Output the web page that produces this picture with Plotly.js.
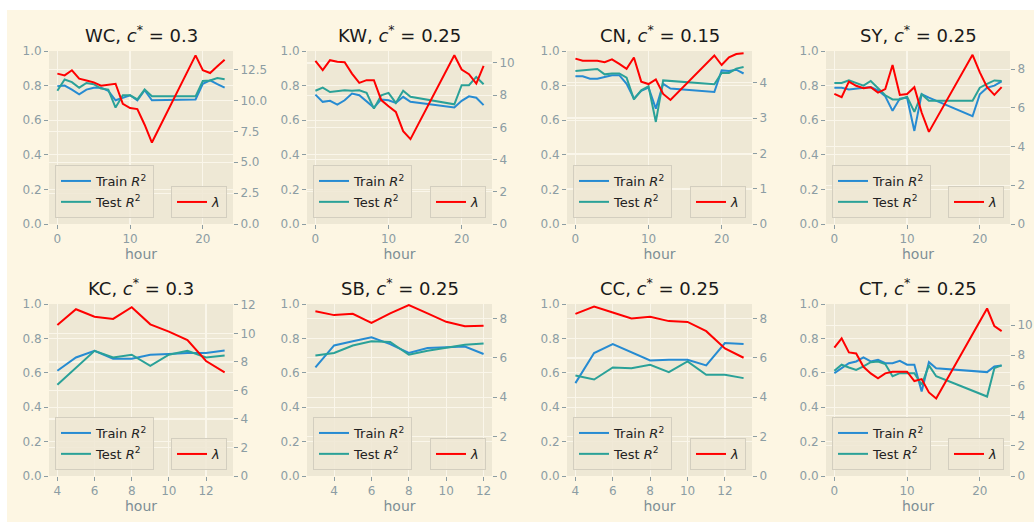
<!DOCTYPE html>
<html>
<head>
<meta charset="utf-8">
<script src="https://cdn.plot.ly/plotly-3.0.1.min.js"></script>
<style>
  html, body { margin: 0; padding: 0; background: #ffffff; }
  #chart { position: absolute; left: 7px; top: 10px; width: 1027px; height: 512px; }
</style>
</head>
<body>
<div id="chart"></div>
<script>
// ---------- data ----------
const sites = ['WC', 'KW', 'CN', 'SY', 'KC', 'SB', 'CC', 'CT'];
const cStar = ['0.3', '0.25', '0.15', '0.25', '0.3', '0.25', '0.25', '0.25'];

const wcHours  = [0,1,2,3,4,5,6,7,8,9,10,11,12,13,19,20,21,22,23];
const wcTrain  = [0.796,0.80,0.777,0.75,0.777,0.788,0.788,0.77,0.715,0.73,0.744,0.715,0.773,0.715,0.72,0.81,0.83,0.808,0.788];
const wcTest   = [0.77,0.835,0.82,0.788,0.815,0.808,0.783,0.777,0.673,0.744,0.744,0.72,0.777,0.738,0.738,0.827,0.83,0.844,0.837];
const wcLambda = [12.18,12.04,12.45,11.77,11.63,11.47,11.2,11.28,11.36,9.74,9.39,9.31,8.04,6.6,13.66,12.45,12.23,12.77,13.31];

const kwHours  = [0,1,2,3,4,5,6,7,8,9,10,11,12,13,19,20,21,22,23];
const kwTrain  = [0.748,0.706,0.712,0.69,0.715,0.754,0.744,0.706,0.673,0.72,0.715,0.70,0.735,0.706,0.673,0.712,0.738,0.73,0.687];
const kwTest   = [0.77,0.788,0.763,0.77,0.773,0.77,0.773,0.758,0.667,0.744,0.758,0.70,0.77,0.735,0.692,0.802,0.802,0.85,0.808];
const kwLambda = [10.12,9.55,10.17,10.08,10.04,9.34,8.76,8.93,8.93,7.69,7.31,6.96,5.76,5.27,10.48,9.59,9.3,8.72,9.81];

const cnHours  = [0,1,2,3,4,5,6,7,8,9,10,11,12,13,19,20,21,22,23];
const cnTrain  = [0.854,0.854,0.84,0.84,0.85,0.86,0.86,0.81,0.725,0.77,0.788,0.667,0.81,0.783,0.763,0.888,0.885,0.892,0.87];
const cnTest   = [0.885,0.888,0.892,0.896,0.865,0.87,0.87,0.846,0.72,0.773,0.796,0.59,0.83,0.827,0.808,0.873,0.873,0.898,0.908];
const cnLambda = [4.68,4.62,4.62,4.62,4.58,4.66,4.53,4.39,4.71,4.03,3.96,4.09,3.68,3.51,4.77,4.5,4.72,4.81,4.83];

const syHours  = [0,1,2,3,4,5,6,7,8,9,10,11,12,13,19,20,21,22,23];
const syTrain  = [0.788,0.788,0.777,0.783,0.788,0.792,0.773,0.738,0.654,0.725,0.73,0.538,0.75,0.73,0.623,0.75,0.788,0.80,0.825];
const syTest   = [0.815,0.815,0.83,0.815,0.80,0.827,0.783,0.744,0.72,0.72,0.735,0.648,0.75,0.712,0.712,0.788,0.81,0.83,0.827];
const syLambda = [6.72,6.55,7.36,7.14,7.02,7.07,6.79,6.97,8.22,6.67,6.72,7.07,5.76,4.76,8.74,7.83,7.07,6.67,7.07];

const kcHours  = [4,5,6,7,8,9,10,11,12,13];
const kcTrain  = [0.612,0.689,0.728,0.682,0.682,0.705,0.709,0.715,0.715,0.73];
const kcTest   = [0.53,0.631,0.728,0.689,0.705,0.641,0.705,0.728,0.689,0.70];
const kcLambda = [10.6,11.7,11.18,11.02,11.84,10.64,10.13,9.54,8.07,7.27];

const sbHours  = [3,4,5,6,7,8,9,10,11,12];
const sbTrain  = [0.631,0.759,0.783,0.806,0.767,0.715,0.744,0.748,0.753,0.709];
const sbTest   = [0.701,0.715,0.759,0.783,0.779,0.705,0.728,0.744,0.763,0.771];
const sbLambda = [8.37,8.17,8.24,7.77,8.26,8.68,8.26,7.83,7.6,7.63];

const ccHours  = [4,5,6,7,8,9,10,11,12,13];
const ccTrain  = [0.54,0.715,0.767,0.72,0.672,0.676,0.676,0.643,0.773,0.767];
const ccTest   = [0.584,0.561,0.631,0.627,0.647,0.604,0.666,0.588,0.588,0.569];
const ccLambda = [8.24,8.61,8.31,8.0,8.09,7.87,7.83,7.36,6.48,6.01];

const ctHours  = [0,1,2,3,4,5,6,7,8,9,10,11,12,13,14,21,22,23];
const ctTrain  = [0.598,0.627,0.656,0.666,0.689,0.666,0.676,0.656,0.656,0.67,0.647,0.647,0.491,0.662,0.627,0.604,0.637,0.643];
const ctTest   = [0.612,0.647,0.631,0.617,0.637,0.662,0.666,0.651,0.58,0.598,0.598,0.598,0.53,0.643,0.58,0.462,0.627,0.643];
const ctLambda = [8.5,9.12,8.19,8.12,7.24,6.8,6.47,6.8,6.91,6.91,6.91,6.29,6.42,5.54,5.14,11.1,9.93,9.6];

const lambdaTicks = [2.5, 2, 1, 2, 2, 2, 2, 2];

// ---------- layout helpers (pixel geometry) ----------
const W = 1027, H = 512;
const colPx = [[42, 226], [300, 485], [560, 745], [819, 1003]];
const rowPx = [[41, 214], [294, 466]];

const panels = [
  {h: wcHours, tr: wcTrain, te: wcTest, lam: wcLambda},
  {h: kwHours, tr: kwTrain, te: kwTest, lam: kwLambda},
  {h: cnHours, tr: cnTrain, te: cnTest, lam: cnLambda},
  {h: syHours, tr: syTrain, te: syTest, lam: syLambda},
  {h: kcHours, tr: kcTrain, te: kcTest, lam: kcLambda},
  {h: sbHours, tr: sbTrain, te: sbTest, lam: sbLambda},
  {h: ccHours, tr: ccTrain, te: ccTest, lam: ccLambda},
  {h: ctHours, tr: ctTrain, te: ctTest, lam: ctLambda}
];

const FONT = 'DejaVu Sans, sans-serif';
const TICK_COLOR = '#8c9da3';
const LABEL_COLOR = '#7d8f96';
const GRID = '#faf6ea';
const BLUE = '#268bd2', TEAL = '#2aa198', RED = '#ff0000';

const traces = [];
const layout = {
  width: W, height: H,
  margin: {l: 0, r: 0, t: 0, b: 0, pad: 0},
  paper_bgcolor: '#fdf6e3',
  plot_bgcolor: '#eee8d5',
  font: {family: FONT, color: '#222222', size: 12},
  showlegend: true,
  annotations: []
};

function axKey(letter, n) { return letter + 'axis' + (n === 1 ? '' : n); }
function axRef(letter, n) { return letter + (n === 1 ? '' : n); }

function pad(range) {
  const mn = Math.min(...range), mx = Math.max(...range);
  const m = 0.05 * (mx - mn);
  return [mn - m, mx + m];
}

panels.forEach((p, k) => {
  const col = colPx[k % 4], row = rowPx[Math.floor(k / 4)];
  const xn = k + 1, yl = 2 * k + 1, yr = 2 * k + 2;
  const xDom = [col[0] / W, col[1] / W];
  const yDom = [1 - row[1] / H, 1 - row[0] / H];
  const legL = k === 0 ? 'legend' : 'legend' + (2 * k + 1);
  const legR = 'legend' + (2 * k + 2);

  const xr = pad(p.h);
  const hourSpan = Math.max(...p.h) - Math.min(...p.h);
  layout[axKey('x', xn)] = {
    domain: xDom, anchor: axRef('y', yl), range: xr,
    dtick: hourSpan > 12 ? 10 : 2, tick0: 0,
    showgrid: true, gridcolor: GRID, gridwidth: 1.2, zeroline: false, showline: false,
    ticks: 'outside', ticklen: 4, tickcolor: TICK_COLOR, tickwidth: 1,
    tickfont: {family: FONT, size: 12, color: TICK_COLOR},
    title: {text: 'hour', font: {family: FONT, size: 14, color: LABEL_COLOR}, standoff: 2},
    automargin: false, fixedrange: true
  };
  layout[axKey('y', yl)] = {
    domain: yDom, anchor: axRef('x', xn), range: [0, 1], dtick: 0.2, tickformat: '.1f',
    showgrid: true, gridcolor: GRID, gridwidth: 1.2, zeroline: false, showline: false,
    ticks: 'outside', ticklen: 4, tickcolor: TICK_COLOR, tickwidth: 1,
    tickfont: {family: FONT, size: 12, color: TICK_COLOR},
    automargin: false, fixedrange: true
  };
  const lmx = Math.max(...p.lam), lmn = Math.min(...p.lam);
  layout[axKey('y', yr)] = {
    overlaying: axRef('y', yl), side: 'right', anchor: axRef('x', xn),
    range: [0, lmx + 0.05 * (lmx - lmn)], dtick: lambdaTicks[k], tick0: 0,
    tickformat: lambdaTicks[k] === 2.5 ? '.1f' : 'd',
    showgrid: true, gridcolor: GRID, gridwidth: 1.2, zeroline: false, showline: false,
    ticks: 'outside', ticklen: 4, tickcolor: TICK_COLOR, tickwidth: 1,
    tickfont: {family: FONT, size: 12, color: TICK_COLOR},
    automargin: false, fixedrange: true
  };

  traces.push({
    type: 'scatter', mode: 'lines', x: p.h, y: p.tr, name: 'Train <i>R</i><sup>2</sup>',
    xaxis: axRef('x', xn), yaxis: axRef('y', yl), legend: legL, legendgroup: 'tr' + k,
    line: {color: BLUE, width: 2}, hoverinfo: 'skip'
  });
  traces.push({
    type: 'scatter', mode: 'lines', x: p.h, y: p.te, name: 'Test <i>R</i><sup>2</sup>',
    xaxis: axRef('x', xn), yaxis: axRef('y', yl), legend: legL, legendgroup: 'te' + k,
    line: {color: TEAL, width: 2}, hoverinfo: 'skip'
  });
  traces.push({
    type: 'scatter', mode: 'lines', x: p.h, y: p.lam, name: '<i>λ</i>',
    xaxis: axRef('x', xn), yaxis: axRef('y', yr), legend: legR, legendgroup: 'la' + k,
    line: {color: RED, width: 2}, hoverinfo: 'skip'
  });

  const legBase = {
    bgcolor: 'rgba(238,232,213,0.85)', bordercolor: '#d3cebf', borderwidth: 1,
    font: {family: FONT, size: 13, color: '#222222'},
    itemwidth: 30, traceorder: 'grouped', tracegroupgap: 1,
    itemclick: false, itemdoubleclick: false,
    xref: 'paper', yref: 'paper', yanchor: 'bottom', y: 1 - (row[1] - 6) / H
  };
  layout[legL] = Object.assign({}, legBase, {x: (col[0] + 6) / W, xanchor: 'left'});
  layout[legR] = Object.assign({}, legBase, {x: (col[1] - 6) / W, xanchor: 'right'});

  layout.annotations.push({
    text: sites[k] + ', <i>c</i><sup>*</sup> = ' + cStar[k],
    xref: 'paper', yref: 'paper', x: (col[0] + col[1]) / 2 / W, y: 1 - (row[0] - 17) / H,
    xanchor: 'center', yanchor: 'middle', showarrow: false,
    font: {family: FONT, size: 18, color: '#1a1a1a'}
  });
});

Plotly.newPlot('chart', traces, layout, {displayModeBar: false, staticPlot: true});
</script>
</body>
</html>
